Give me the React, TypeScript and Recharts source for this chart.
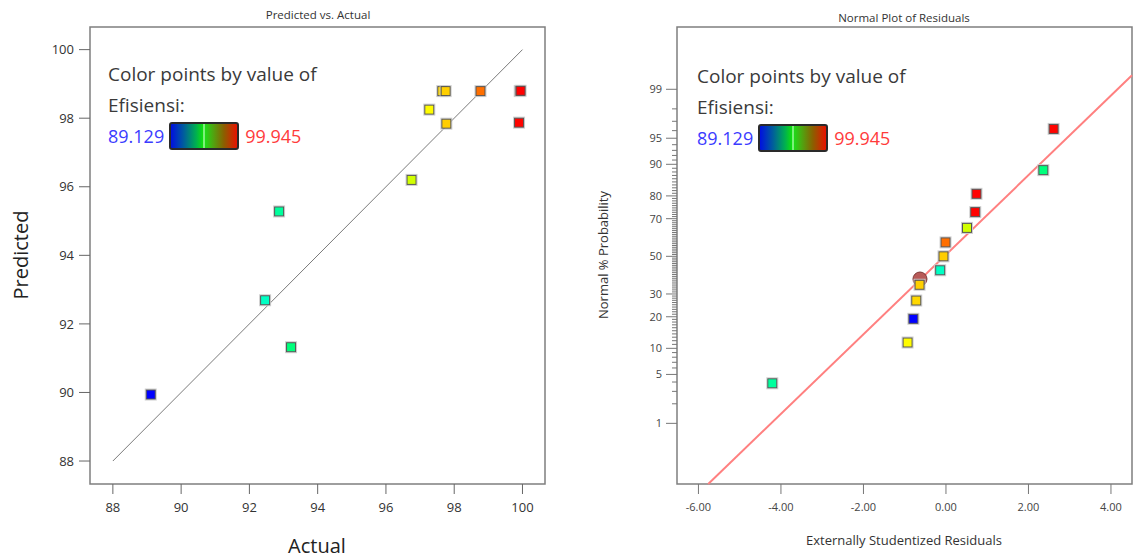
import React from 'react';
import {
  ScatterChart,
  Scatter,
  XAxis,
  YAxis,
  ReferenceLine,
  ReferenceArea,
} from 'recharts';

// run order data (Efisiensi)
const ACTUAL = [89.11, 92.46, 92.87, 93.22, 96.75, 97.27, 97.65, 97.75, 97.77, 98.77, 99.92, 99.945, 99.9];
const PREDICTED = [89.94, 92.69, 95.28, 91.32, 96.2, 98.25, 98.79, 98.79, 97.84, 98.79, 98.79, 98.8, 97.87];
const RESIDUALS = [-0.79, -0.14, -4.21, 2.36, 0.51, -0.93, -0.72, -0.64, -0.06, -0.01, 0.71, 0.74, 2.61];
const PROBABILITY = [19.2, 42.3, 3.85, 88.5, 65.4, 11.5, 26.9, 34.6, 50, 57.7, 73.1, 80.8, 96.2];

// highlighted point on the normal plot
const SELECTED_RESIDUAL = [-0.63];
const SELECTED_PROBABILITY = [37.6];

const PVA_TICKS = [88, 90, 92, 94, 96, 98, 100];
const RES_TICKS = [-6, -4, -2, 0, 2, 4];
const PROB_LABELS = [1, 5, 10, 20, 30, 50, 70, 80, 90, 95, 99];
const PROB_MINOR = Array.from({ length: 99 }, (_, i) => i + 1);

const EFF_MIN = 89.129;
const EFF_MAX = 99.945;

// fitted line on normal plot: residual = intercept + slope * z
const LINE_INTERCEPT = -0.04;
const LINE_SLOPE = 1.805;

const FONT = "'Open Sans', 'Noto Sans', sans-serif";

function effColor(v: number) {
  const t = Math.max(0, Math.min(1, (v - EFF_MIN) / (EFF_MAX - EFF_MIN)));
  return `hsl(${240 * (1 - t)}, 100%, 50%)`;
}

// inverse normal cdf (Acklam)
function probit(p: number) {
  const a = [-39.69683028665376, 220.9460984245205, -275.9285104469687, 138.357751867269, -30.66479806614716, 2.506628277459239];
  const b = [-54.47609879822406, 161.5858368580409, -155.6989798598866, 66.80131188771972, -13.28068155288572];
  const c = [-0.007784894002430293, -0.3223964580411365, -2.400758277161838, -2.549732539343734, 4.374664141464968, 2.938163982698783];
  const d = [0.007784695709041462, 0.3224671290700398, 2.445134137142996, 3.754408661907416];
  const pl = 0.02425;
  if (p < pl) {
    const q = Math.sqrt(-2 * Math.log(p));
    return (((((c[0] * q + c[1]) * q + c[2]) * q + c[3]) * q + c[4]) * q + c[5]) / ((((d[0] * q + d[1]) * q + d[2]) * q + d[3]) * q + 1);
  }
  if (p <= 1 - pl) {
    const q = p - 0.5;
    const r = q * q;
    return ((((((a[0] * r + a[1]) * r + a[2]) * r + a[3]) * r + a[4]) * r + a[5]) * q) / (((((b[0] * r + b[1]) * r + b[2]) * r + b[3]) * r + b[4]) * r + 1);
  }
  const q = Math.sqrt(-2 * Math.log(1 - p));
  return -(((((c[0] * q + c[1]) * q + c[2]) * q + c[3]) * q + c[4]) * q + c[5]) / ((((d[0] * q + d[1]) * q + d[2]) * q + d[3]) * q + 1);
}

const pvaData = ACTUAL.map((a, i) => ({ x: a, y: PREDICTED[i], eff: a }));
const resData = RESIDUALS.map((r, i) => ({ x: r, y: probit(PROBABILITY[i] / 100), eff: ACTUAL[i] }));
const selData = SELECTED_RESIDUAL.map((r, i) => ({ x: r, y: probit(SELECTED_PROBABILITY[i] / 100) }));

const Z_MIN = -3.171;
const Z_MAX = 3.194;
const RES_MIN = -6.52;
const RES_MAX = 4.51;
const PVA_MIN = 87.33;
const PVA_MAX = 100.66;

const probTickZ = PROB_MINOR.map((p) => probit(p / 100));

const Square = (props: any) => {
  const { cx, cy, payload } = props;
  if (cx == null || cy == null) return null;
  return (
    <g>
      <rect x={cx - 5.5} y={cy - 5.5} width={11} height={11} fill="none" stroke="#cfcfcf" strokeWidth={1} />
      <rect x={cx - 4.5} y={cy - 4.5} width={9} height={9} fill={effColor(payload.eff)} stroke="#555" strokeWidth={1} />
    </g>
  );
};

const SelDot = (props: any) => {
  const { cx, cy } = props;
  if (cx == null || cy == null) return null;
  return <circle cx={cx} cy={cy} r={7} fill="#b85a58" stroke="#7d3a38" strokeWidth={1} />;
};

const ProbTick = (props: any) => {
  const { x, y, payload } = props;
  const idx = probTickZ.findIndex((z) => Math.abs(z - payload.value) < 1e-9);
  const p = PROB_MINOR[idx];
  const major = PROB_LABELS.includes(p);
  const len = major ? 11 : 5;
  return (
    <g>
      <line x1={x - len} x2={x} y1={y} y2={y} stroke="#777" strokeWidth={1} />
      {major && (
        <text x={x - 15} y={y} dy="0.35em" textAnchor="end" fontSize={11} fill="#444" fontFamily={FONT}>
          {p}
        </text>
      )}
    </g>
  );
};

const Legend = ({ left, top }: { left: number; top: number }) => (
  <div style={{ position: 'absolute', left, top, fontFamily: FONT, color: '#3a3a3a' }}>
    <div style={{ fontSize: 19, lineHeight: '24px', whiteSpace: 'nowrap' }}>Color points by value of</div>
    <div style={{ fontSize: 19, lineHeight: '24px', marginTop: 7 }}>Efisiensi:</div>
    <div style={{ display: 'flex', alignItems: 'center', marginTop: 5 }}>
      <span style={{ fontSize: 18, color: '#3b3bff', lineHeight: '24px' }}>89.129</span>
      <div
        style={{
          width: 66,
          height: 24,
          marginLeft: 5,
          marginRight: 6,
          border: '2px solid #2a2a2a',
          borderRadius: 3,
          background:
            'linear-gradient(to right, #0010e0 0%, #00609a 20%, #00b050 38%, #10dc10 48%, #b8ffb8 50%, #20d818 52%, #50a410 64%, #8a6000 80%, #e81200 100%)',
        }}
      />
      <span style={{ fontSize: 18, color: '#ff3b3b', lineHeight: '24px' }}>99.945</span>
    </div>
  </div>
);

export default function App() {
  return (
    <div style={{ position: 'absolute', left: 0, top: 0, width: 1134, height: 559, background: '#fff', fontFamily: FONT }}>
      <div style={{ position: 'absolute', left: 0, top: 0 }}>
        <ScatterChart width={560} height={559} margin={{ top: 27, right: 15, bottom: 45, left: 0 }}>
          <XAxis
            type="number"
            dataKey="x"
            domain={[PVA_MIN, PVA_MAX]}
            ticks={PVA_TICKS}
            allowDataOverflow
            axisLine={false}
            tickSize={10}
            tickMargin={9}
            tickLine={{ stroke: '#666' }}
            tick={{ fontSize: 13, fill: '#333', fontFamily: FONT }}
            height={30}
          />
          <YAxis
            type="number"
            dataKey="y"
            domain={[PVA_MIN, PVA_MAX]}
            ticks={PVA_TICKS}
            allowDataOverflow
            axisLine={false}
            tickSize={11}
            tickMargin={5}
            tickLine={{ stroke: '#666' }}
            tick={{ fontSize: 13, fill: '#333', fontFamily: FONT }}
            width={90}
          />
          <ReferenceArea x1={PVA_MIN} x2={PVA_MAX} y1={PVA_MIN} y2={PVA_MAX} fill="none" stroke="#7f7f7f" strokeWidth={1.5} ifOverflow="visible" />
          <ReferenceLine
            segment={[{ x: 88, y: 88 }, { x: 100, y: 100 }]}
            stroke="#7a7a7a"
            strokeWidth={1}
          />
          <Scatter data={pvaData} shape={Square} isAnimationActive={false} />
        </ScatterChart>
      </div>

      <div style={{ position: 'absolute', left: 590, top: 0 }}>
        <ScatterChart width={544} height={559} margin={{ top: 27, right: 2, bottom: 45, left: 0 }}>
          <XAxis
            type="number"
            dataKey="x"
            domain={[RES_MIN, RES_MAX]}
            ticks={RES_TICKS}
            allowDataOverflow
            axisLine={false}
            tickSize={10}
            tickMargin={9}
            tickLine={{ stroke: '#777' }}
            tickFormatter={(v: number) => v.toFixed(2)}
            tick={{ fontSize: 11, fill: '#444', fontFamily: FONT }}
            height={30}
          />
          <YAxis
            type="number"
            dataKey="y"
            domain={[Z_MIN, Z_MAX]}
            ticks={probTickZ}
            interval={0}
            allowDataOverflow
            axisLine={false}
            tickLine={false}
            tickSize={0}
            tickMargin={0}
            tick={<ProbTick />}
            width={87}
          />
          <ReferenceArea x1={RES_MIN} x2={RES_MAX} y1={Z_MIN} y2={Z_MAX} fill="none" stroke="#7f7f7f" strokeWidth={1.5} ifOverflow="visible" />
          <ReferenceLine
            segment={[
              { x: LINE_INTERCEPT + LINE_SLOPE * Z_MIN, y: Z_MIN },
              { x: RES_MAX, y: (RES_MAX - LINE_INTERCEPT) / LINE_SLOPE },
            ]}
            stroke="#ff8080"
            strokeWidth={2}
          />
          <Scatter data={selData} shape={SelDot} isAnimationActive={false} />
          <Scatter data={resData} shape={Square} isAnimationActive={false} />
        </ScatterChart>
      </div>

      {/* titles */}
      <div style={{ position: 'absolute', left: 318, top: 14, transform: 'translate(-50%, -50%)', fontSize: 11.5, color: '#333', whiteSpace: 'nowrap' }}>
        Predicted vs. Actual
      </div>
      <div style={{ position: 'absolute', left: 904, top: 17, transform: 'translate(-50%, -50%)', fontSize: 11.5, color: '#333', whiteSpace: 'nowrap' }}>
        Normal Plot of Residuals
      </div>

      {/* axis titles */}
      <div style={{ position: 'absolute', left: 317, top: 545, transform: 'translate(-50%, -50%)', fontSize: 20, color: '#222', whiteSpace: 'nowrap' }}>
        Actual
      </div>
      <div style={{ position: 'absolute', left: 20, top: 255, transform: 'translate(-50%, -50%) rotate(-90deg)', fontSize: 20, color: '#222', whiteSpace: 'nowrap' }}>
        Predicted
      </div>
      <div style={{ position: 'absolute', left: 904, top: 540, transform: 'translate(-50%, -50%)', fontSize: 13, color: '#333', whiteSpace: 'nowrap' }}>
        Externally Studentized Residuals
      </div>
      <div style={{ position: 'absolute', left: 603, top: 255, transform: 'translate(-50%, -50%) rotate(-90deg)', fontSize: 13, color: '#333', whiteSpace: 'nowrap' }}>
        Normal % Probability
      </div>

      <Legend left={108} top={62} />
      <Legend left={697} top={64} />
    </div>
  );
}
